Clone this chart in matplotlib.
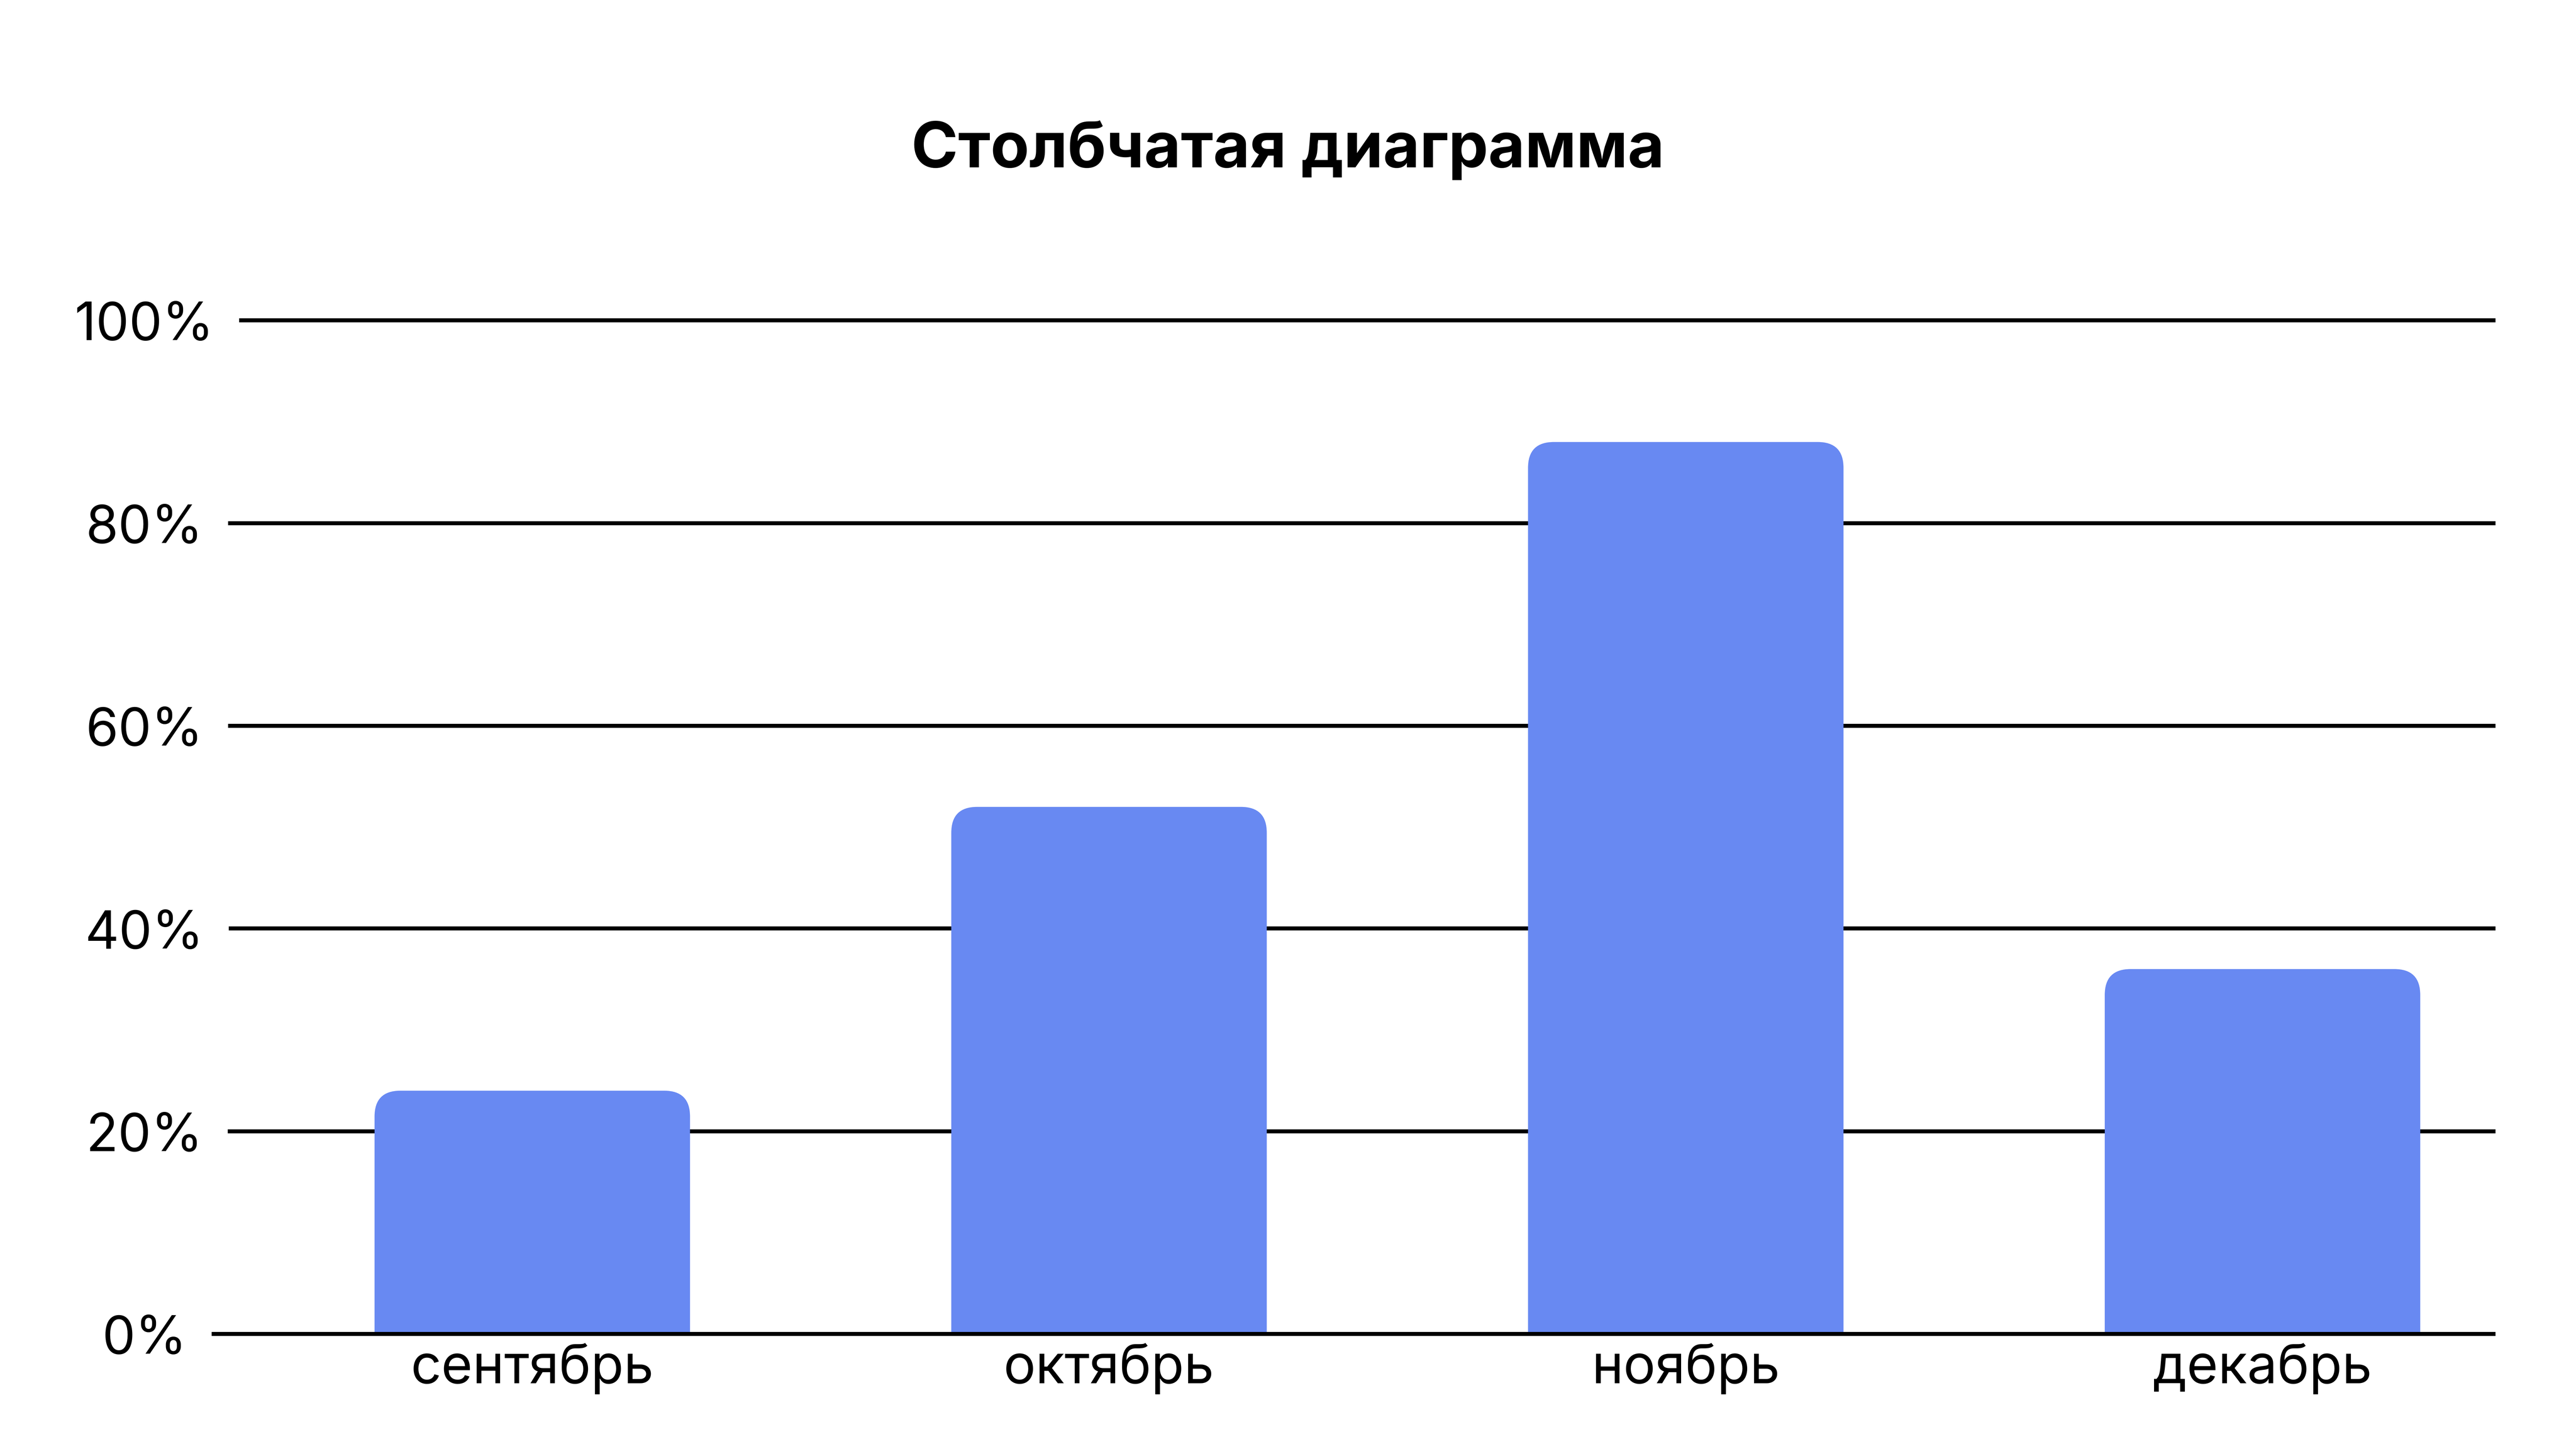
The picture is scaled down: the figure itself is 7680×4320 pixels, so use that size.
import numpy as np
import matplotlib
matplotlib.use('Agg')
import matplotlib.pyplot as plt
from matplotlib.patches import FancyBboxPatch

# data
months = ['сентябрь', 'октябрь', 'ноябрь', 'декабрь']
values = [24, 52, 88, 36]
yticks = [0, 20, 40, 60, 80, 100]
ytick_labels = ['0%', '20%', '40%', '60%', '80%', '100%']
title = 'Столбчатая диаграмма'

bar_color = '#6889F2'
plt.rcParams['font.family'] = ['Inter', 'DejaVu Sans']

fig = plt.figure(figsize=(16, 9), dpi=480)
ax = fig.add_axes([0.078125, 0.0794, 0.890625, 0.6995])
ax.set_xlim(-0.574, 3.404)
ax.set_ylim(0, 100)
ax.axis('off')

x = np.arange(len(months))
bars = ax.bar(x, values, width=0.547, color=bar_color, zorder=2)

# rounded tops: radius in pixels -> data units
r_px = 77
px_per_x = ax.transData.transform((1, 0))[0] - ax.transData.transform((0, 0))[0]
px_per_y = ax.transData.transform((0, 1))[1] - ax.transData.transform((0, 0))[1]
rx = r_px / px_per_x
ry = r_px / px_per_y
for b in bars:
    b.set_visible(False)
    p = FancyBboxPatch((b.get_x(), -ry), b.get_width(), b.get_height() + ry,
                       boxstyle=f'round,pad=0,rounding_size={rx}',
                       mutation_aspect=ry / rx, facecolor=bar_color,
                       edgecolor='none', zorder=2)
    ax.add_patch(p)

# y labels centred at fixed x, baseline shifted so digits centre on line
ylab = []
for v, lab in zip(yticks, ytick_labels):
    t = ax.annotate(lab, xy=(0.0561, v), xycoords=('figure fraction', 'data'),
                    xytext=(0, -8.9), textcoords='offset points',
                    ha='center', va='baseline', fontsize=23.5, color='black')
    ylab.append(t)

# month labels
for i, m in enumerate(months):
    ax.annotate(m, xy=(i, 0), xytext=(0, -22), textcoords='offset points',
                ha='center', va='baseline', fontsize=24, color='black',
                annotation_clip=False)

# grid lines start right after each label
fig.canvas.draw()
renderer = fig.canvas.get_renderer()
inv = ax.transAxes.inverted()
for v, t in zip(yticks, ylab):
    bb = t.get_window_extent(renderer)
    x0 = inv.transform((bb.x1 + 74, 0))[0]
    ax.plot([x0, 1], [v, v], transform=ax.get_yaxis_transform(),
            color='black', lw=1.8, solid_capstyle='butt', clip_on=False,
            zorder=3 if v == 0 else 1)

fig.text(0.5, 0.8845, title, ha='center', va='baseline',
         fontsize=28.3, fontweight='bold', color='black')

fig.savefig('out.png', dpi=480, facecolor='white')
